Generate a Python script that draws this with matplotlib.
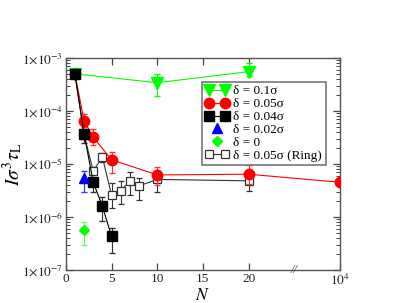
import numpy as np
import matplotlib
matplotlib.use("Agg")
import matplotlib.pyplot as plt
from matplotlib.legend_handler import HandlerLine2D
from matplotlib.ticker import FixedLocator, LogLocator, NullFormatter, FuncFormatter

plt.rcParams['font.family'] = ['Liberation Serif', 'DejaVu Serif']
plt.rcParams['mathtext.fontset'] = 'stix'

# break of the N axis: 10^4 is drawn at position 30
N_BREAK = 30


def xpos(n):
    return [N_BREAK if v >= 1e4 else v for v in n]


# delta = 0.1 sigma
n_01 = [1, 10, 20]
y_01 = [5.0e-4, 3.4e-4, 5.5e-4]
lo_01 = [5.0e-4, 1.9e-4, 4.5e-4]
hi_01 = [5.0e-4, 5.0e-4, 8.0e-4]

# delta = 0.05 sigma
n_005 = [1, 2, 3, 5, 10, 20, 10000]
y_005 = [4.9e-4, 6.5e-5, 3.2e-5, 1.2e-5, 6.2e-6, 6.4e-6, 4.5e-6]
lo_005 = [4.9e-4, 5.0e-5, 2.3e-5, 6.7e-6, 4.0e-6, 4.2e-6, 4.5e-6]
hi_005 = [4.9e-4, 8.6e-5, 4.5e-5, 1.65e-5, 8.9e-6, 9.6e-6, 4.5e-6]

# delta = 0.04 sigma
n_004 = [1, 2, 3, 4, 5]
y_004 = [4.9e-4, 3.7e-5, 4.5e-6, 1.6e-6, 4.3e-7]
lo_004 = [4.9e-4, 2.5e-5, 3.0e-6, 8.5e-7, 2.1e-7]
hi_004 = [4.9e-4, 4.5e-5, 5.5e-6, 2.4e-6, 6.3e-7]

# delta = 0.02 sigma
n_002 = [2]
y_002 = [5.5e-6]
lo_002 = [2.9e-6]
hi_002 = [7.5e-6]

# delta = 0
n_0 = [2]
y_0 = [5.6e-7]
lo_0 = [3.0e-7]
hi_0 = [8.1e-7]

# delta = 0.05 sigma, ring
n_ring = [1, 2, 3, 4, 5, 6, 7, 8, 10, 20]
y_ring = [4.9e-4, 3.5e-5, 7.4e-6, 1.35e-5, 2.6e-6, 3.15e-6, 4.7e-6, 3.85e-6, 5.1e-6, 4.8e-6]
lo_ring = [4.9e-4, 3.0e-5, 6.2e-6, 1.1e-5, 1.5e-6, 1.75e-6, 2.6e-6, 2.1e-6, 3.0e-6, 3.1e-6]
hi_ring = [4.9e-4, 4.0e-5, 8.8e-6, 1.58e-5, 4.4e-6, 4.8e-6, 6.9e-6, 5.5e-6, 7.0e-6, 7.5e-6]

xticks = [0, 5, 10, 15, 20, N_BREAK]
xticklabels = ['0', '5', '10', '15', '20', r'$10^4$']

labels = ['δ = 0.1σ', 'δ = 0.05σ', 'δ = 0.04σ', 'δ = 0.02σ', 'δ = 0', 'δ = 0.05σ (Ring)']


def yerr(y, lo, hi):
    y = np.array(y)
    return [y - np.array(lo), np.array(hi) - y]


fig = plt.figure(figsize=(3.99, 3.03), dpi=100)
ax = fig.add_axes([0.165, 0.109, 0.687, 0.700])

green = '#00ff00'

h_ring = ax.errorbar(xpos(n_ring), y_ring, yerr=yerr(y_ring, lo_ring, hi_ring),
                     color='#333333', marker='s', ms=6, mfc='white', mec='#333333',
                     mew=0.9, lw=0.8, capsize=2.5, elinewidth=0.8, zorder=2)
h_01 = ax.errorbar(xpos(n_01), y_01, yerr=yerr(y_01, lo_01, hi_01),
                   color=green, marker='v', ms=8, lw=0.8, capsize=2.5, elinewidth=0.8, zorder=3)
h_005 = ax.errorbar(xpos(n_005), y_005, yerr=yerr(y_005, lo_005, hi_005),
                    color='red', marker='o', ms=7.5, lw=0.8, capsize=2.5, elinewidth=0.8,
                    ecolor='#ff3333', zorder=4)
h_004 = ax.errorbar(xpos(n_004), y_004, yerr=yerr(y_004, lo_004, hi_004),
                    color='black', marker='s', ms=6.5, lw=0.8, capsize=2.5, elinewidth=0.8,
                    ecolor='#333333', zorder=5)
h_002 = ax.errorbar(n_002, y_002, yerr=yerr(y_002, lo_002, hi_002),
                    color='blue', marker='^', ms=6.5, ls='none', capsize=2.5,
                    elinewidth=0.8, ecolor='#3333ff', zorder=5)
h_0 = ax.errorbar(n_0, y_0, yerr=yerr(y_0, lo_0, hi_0),
                  color=green, marker='D', ms=5.5, ls='none', capsize=2.5,
                  elinewidth=0.8, ecolor='#66ff66', zorder=5)

ax.set_yscale('log')
ax.set_ylim(1e-7, 1e-3)
ax.set_xlim(0, N_BREAK)
ax.xaxis.set_major_locator(FixedLocator(xticks))
ax.set_xticklabels(xticklabels)
ax.yaxis.set_major_locator(LogLocator(base=10, numticks=10))
ax.yaxis.set_minor_locator(LogLocator(base=10, subs=np.arange(2, 10), numticks=20))
ax.yaxis.set_minor_formatter(NullFormatter())
ax.yaxis.set_major_formatter(FuncFormatter(
    lambda v, p: r'$1{\times}10^{%d}$' % int(round(np.log10(v)))))

ax.tick_params(which='both', direction='in', top=True, right=True,
               labelsize=9.5, colors='#444444', labelcolor='#222222', pad=2)
ax.tick_params(which='major', length=5, width=0.9)
ax.tick_params(which='minor', length=3, width=0.7)
for s in ax.spines.values():
    s.set_color('#555555')
    s.set_linewidth(1.0)

# axis break mark
ax.text(25, 1e-7, '//', ha='center', va='center', fontsize=9, style='italic',
        color='#444444', clip_on=False)

ax.set_xlabel(r'$N$', fontsize=12.5)
ax.xaxis.set_label_coords(0.5, -0.085)
ax.set_ylabel(r'$I\sigma^3\tau_{\rm L}$', fontsize=14)
ax.yaxis.set_label_coords(-0.15, 0.5)

handles = [h_01[0], h_005[0], h_004[0], h_002[0], h_0[0], h_ring[0]]
leg = ax.legend(handles, labels,
                loc='upper left', bbox_to_anchor=(0.496, 0.887), fontsize=9.5,
                numpoints=2, handlelength=1.8, handletextpad=0.35, labelspacing=0.05,
                borderpad=0.25, borderaxespad=0, fancybox=False, framealpha=1,
                handler_map={h_002[0]: HandlerLine2D(numpoints=1),
                             h_0[0]: HandlerLine2D(numpoints=1)})
leg.get_frame().set_edgecolor('#777777')
leg.get_frame().set_linewidth(1.2)

fig.savefig('out.png', dpi=100)
